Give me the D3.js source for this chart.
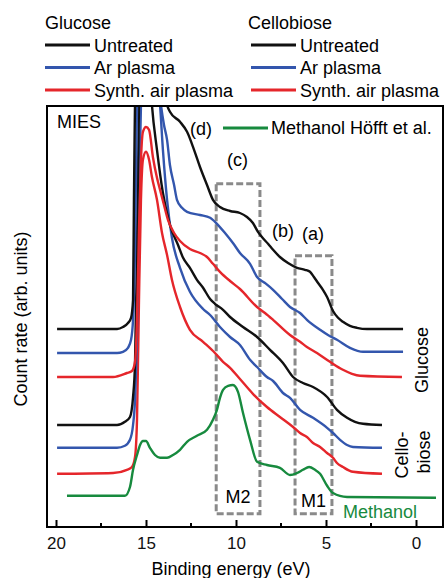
<!DOCTYPE html>
<html lang="en">
<head>
    <meta charset="UTF-8">
    <title>MIES spectra</title>
    <script src="https://d3js.org/d3.v7.min.js"></script>
    <style>
        body { margin: 0; background: white; }
        svg text {
            font-family: "Liberation Sans", Arial, sans-serif;
            font-size: 18px;
        }
        .tick text { font-size: 17px; }
        path.spectrum { fill: none; stroke-width: 2.4px; stroke-linejoin: round; }
        rect.region { fill: none; stroke: #8a8a8a; stroke-width: 3px; stroke-dasharray: 7,3; }
    </style>
</head>
<body>
<svg id="canvas" width="446" height="578"></svg>
<script>
    // spectra: [binding energy (eV), count rate (arb. units)]
    // curves are stacked with an offset, peaks run past the top of the frame
    const glucoseUntreated = [[19.94,49.5],[16.61,49.5],[16.28,50],[16.0,51],[15.83,52.3],[15.72,56.8],[15.67,81.8],
        [15.56,116.8],[15.06,126.8],[14.22,116.8],[13.83,105.5],[13.67,103.8],[13.11,101.3],[12.72,98.8],[12.33,94.3],
        [12.0,90],[11.61,85.5],[11.28,81.8],[10.89,80],[10.33,79],[9.78,78.5],[9.39,77.5],[9.06,76],[8.78,73.8],
        [8.56,72.5],[8.22,70.8],[7.94,69.3],[7.56,67.5],[7.11,66],[6.61,64.8],[6.17,64.3],[5.89,63.8],[5.67,62.5],
        [5.44,61],[5.17,59.3],[4.94,57.5],[4.61,54],[4.33,52.3],[4.06,51.3],[3.67,50.3],[3.28,49.8],[2.72,49.5],[0.72,49.5]];
    const glucoseAr = [[19.94,43.5],[16.61,43.5],[16.28,43.8],[16.0,44.8],[15.83,46.8],[15.72,51.8],[15.61,69.3],
        [15.5,105.5],[15.33,121.8],[14.78,124.3],[14.33,111.8],[14.17,105.5],[14.0,100.5],[13.83,96.8],[13.67,90.5],
        [13.44,85.5],[13.28,81.8],[13.0,79.8],[12.72,78.8],[12.0,78],[11.44,77.3],[11.06,75.8],[10.61,73.5],[10.17,71],
        [9.78,68.5],[9.22,65.8],[8.83,62.5],[8.39,61],[7.94,59.3],[7.44,57],[7.0,55],[6.44,53.5],[6.06,51.8],[5.33,49.3],
        [4.89,48],[4.39,46.8],[3.67,44.8],[2.94,43.8],[0.72,43.8]];
    const glucoseAir = [[19.94,37.5],[16.83,37.5],[16.06,38.5],[15.78,39],[15.61,41.3],[15.5,51.8],[15.39,74.3],
        [15.28,91.8],[15.17,98.8],[15.0,100],[14.83,99.3],[14.61,92.3],[14.39,87.3],[14.22,84.3],[14.0,80.5],[13.78,76.8],
        [13.44,73.5],[13.11,71.5],[12.56,69.5],[12.0,68.5],[11.61,67.5],[11.28,65.8],[10.89,63.8],[10.33,61.5],[9.78,59.5],
        [8.83,55],[8.39,53.5],[7.94,51.8],[7.0,48],[6.44,46.3],[6.06,45],[5.5,43.5],[4.78,41.3],[4.06,39.3],[3.56,38.3],
        [3.11,37.8],[0.78,37.5]];
    const cellobioseUntreated = [[19.94,25.5],[16.61,25.5],[16.17,26.3],[15.89,27.5],[15.72,32.5],[15.61,41],[15.5,69.3],
        [15.39,105.5],[15.17,119.3],[14.83,116.8],[14.67,105.5],[14.39,94.3],[14.06,83.5],[13.67,75.5],[13.22,70.5],
        [12.94,67.3],[12.56,64.8],[12.17,61.8],[11.83,59.8],[11.44,57],[11.17,55.8],[10.72,54.3],[10.33,52.5],[9.61,50],
        [8.83,47.5],[8.11,44.3],[7.39,41],[6.83,37.5],[6.28,36],[5.72,35],[4.94,32.5],[4.39,29.3],[3.83,27.3],[3.39,26.3],
        [2.94,25.8],[1.89,25.5]];
    const cellobioseAr = [[19.94,19.8],[16.61,19.8],[16.17,20.3],[15.89,21.8],[15.72,25.5],[15.61,31.8],[15.5,49.3],
        [15.39,81.8],[15.28,105.5],[15.06,119.3],[14.5,116.8],[14.22,105.5],[14.06,94.3],[13.83,81.8],[13.56,72.3],
        [13.11,64.8],[12.56,58.8],[11.83,54.5],[11.44,53],[10.89,50],[10.33,47.5],[9.78,45.5],[9.22,41.8],[8.83,40],
        [8.28,37.5],[7.94,36.5],[7.39,33.5],[7.0,32.3],[6.44,29.3],[5.72,27.3],[4.94,24.8],[4.61,23.5],[4.22,21.8],
        [3.83,20.5],[3.5,20],[1.89,19.8]];
    const cellobioseAir = [[19.94,13.3],[16.83,13.5],[16.06,14.3],[15.78,15],[15.61,17.5],[15.5,26.8],[15.39,56.8],
        [15.28,81.8],[15.17,91.8],[15.0,93.8],[14.83,91.8],[14.67,87.5],[14.39,81.8],[14.11,73.5],[13.83,68],[13.56,61.8],
        [13.11,55],[12.56,49.3],[11.83,46.3],[11.17,43.5],[10.72,41.3],[10.33,39.8],[9.78,37],[9.06,33.3],[8.28,30],
        [7.56,27.5],[6.83,25],[6.44,23.5],[6.06,22.5],[5.72,21],[5.33,20],[4.94,18.5],[4.61,17.3],[4.39,16],[4.06,15],
        [3.5,13.8],[1.89,13.3]];
    const methanolHoefft = [[19.39,7.8],[16.17,7.8],[15.89,10],[15.72,14.3],[15.5,18],[15.33,20.5],[15.17,21.5],[15.0,21.5],
        [14.78,19.8],[14.5,18],[14.22,17.3],[13.83,17.3],[13.5,18],[13.11,19.3],[12.72,21.3],[12.17,22.8],[11.61,24.3],
        [11.28,26.8],[11.06,29.3],[10.89,32.3],[10.72,34.3],[10.44,35.3],[10.17,35.5],[9.89,33.8],[9.61,28.5],[9.22,21.8],
        [8.83,16.3],[8.28,15.5],[7.56,14.8],[7.0,13],[6.61,13.5],[6.28,14.3],[5.94,15],[5.61,14.3],[5.33,13.3],[4.94,10.3],
        [4.61,8.5],[3.83,7.5],[-1.11,7.3]];

    // marked regions: energy range and height of the dashed boxes
    const regionNames = ["M2", "M1"];
    const regionEnergies = [[11.1, 8.67], [6.72, 4.67]];
    const regionTops = [85.8, 67.8];
    const regionBottom = 3.3;

    const treatments = ["Untreated", "Ar plasma", "Synth. air plasma"];
    const samples = ["Glucose", "Cellobiose"];
    const xTicks = [20, 15, 10, 5, 0];
    const xMinorTicks = [17.5, 12.5, 7.5, 2.5];

    const colors = {"Untreated": "#111111", "Ar plasma": "#3356ad", "Synth. air plasma": "#e5262b", "Methanol": "#178a3e"};

    let svg = d3.select('svg');
    let frame = {left: 47, right: 443, top: 106, bottom: 527};

    let x = d3.scaleLinear().domain([20.5, -1.5]).range([frame.left, frame.right]);
    let y = d3.scaleLinear().domain([0, 105.25]).range([frame.bottom, frame.top]);

    svg.append('clipPath').attr('id', 'plotClip')
        .append('rect').attr('x', frame.left).attr('y', frame.top)
        .attr('width', frame.right - frame.left).attr('height', frame.bottom - frame.top);

    let plot = svg.append('g').attr('clip-path', 'url(#plotClip)');

    // dashed boxes behind the spectra
    regionNames.forEach((name, i) => {
        let e = regionEnergies[i];
        plot.append('rect').attr('class', 'region')
            .attr('x', x(e[0])).attr('width', x(e[1]) - x(e[0]))
            .attr('y', y(regionTops[i])).attr('height', y(regionBottom) - y(regionTops[i]));
    });

    let line = d3.line().x(d => x(d[0])).y(d => y(d[1])).curve(d3.curveMonotoneX);

    let spectra = [
        {data: cellobioseAir, color: colors["Synth. air plasma"]},
        {data: cellobioseAr, color: colors["Ar plasma"]},
        {data: cellobioseUntreated, color: colors["Untreated"]},
        {data: glucoseAir, color: colors["Synth. air plasma"]},
        {data: glucoseAr, color: colors["Ar plasma"]},
        {data: glucoseUntreated, color: colors["Untreated"]},
        {data: methanolHoefft, color: colors["Methanol"]}
    ];
    plot.selectAll('path.spectrum')
        .data(spectra)
        .enter()
        .append('path')
        .attr('class', 'spectrum')
        .attr('stroke', d => d.color)
        .attr('d', d => line(d.data));

    // frame
    svg.append('rect').attr('x', frame.left).attr('y', frame.top)
        .attr('width', frame.right - frame.left).attr('height', frame.bottom - frame.top)
        .attr('fill', 'none').attr('stroke', 'black').attr('stroke-width', 2);

    // x axis, ticks pointing inward
    let xAxis = svg.append('g').attr('transform', `translate(0,${frame.bottom})`)
        .call(d3.axisBottom(x).tickValues(xTicks).tickSizeInner(-7).tickSizeOuter(0).tickPadding(10));
    xAxis.select('.domain').remove();
    xAxis.selectAll('.tick line').attr('stroke-width', 2);
    xAxis.selectAll('.tick text').attr('fill', '#111');
    svg.append('g').selectAll('line')
        .data(xMinorTicks).enter().append('line')
        .attr('x1', d => x(d)).attr('x2', d => x(d))
        .attr('y1', frame.bottom).attr('y2', frame.bottom - 4)
        .attr('stroke', 'black').attr('stroke-width', 2);

    svg.append('text').attr('x', 231).attr('y', 575).attr('text-anchor', 'middle').text('Binding energy (eV)');
    svg.append('text').attr('transform', 'translate(27,319) rotate(-90)').attr('text-anchor', 'middle')
        .text('Count rate (arb. units)');

    // legend above the frame
    samples.forEach((s, i) => {
        let lx = i === 0 ? 45 : 251;
        svg.append('text').attr('x', lx - (i === 0 ? 0 : 3)).attr('y', 29).text(s);
        treatments.forEach((t, j) => {
            let ly = 45 + j * 22.5;
            svg.append('line').attr('x1', lx).attr('x2', lx + 45).attr('y1', ly).attr('y2', ly)
                .attr('stroke', colors[t]).attr('stroke-width', 3);
            svg.append('text').attr('x', lx + 49).attr('y', ly + 6.5).text(t);
        });
    });

    // labels inside the frame
    svg.append('text').attr('x', 57).attr('y', 128).text('MIES');
    svg.append('text').attr('x', 190).attr('y', 135).text('(d)');
    svg.append('line').attr('x1', 223).attr('x2', 268).attr('y1', 128).attr('y2', 128)
        .attr('stroke', colors["Methanol"]).attr('stroke-width', 3);
    svg.append('text').attr('x', 271).attr('y', 134).text('Methanol Höfft et al.');
    svg.append('text').attr('x', 227).attr('y', 166).text('(c)');
    svg.append('text').attr('x', 272).attr('y', 237).text('(b)');
    svg.append('text').attr('x', 302).attr('y', 240).text('(a)');

    regionNames.forEach((name, i) => {
        let e = regionEnergies[i];
        svg.append('text').attr('x', (x(e[0]) + x(e[1])) / 2).attr('y', i === 0 ? 503 : 507)
            .attr('text-anchor', 'middle').text(name);
    });
    svg.append('text').attr('x', 343).attr('y', 518).attr('fill', colors["Methanol"]).text('Methanol');

    svg.append('text').attr('transform', 'translate(428,360) rotate(-90)').attr('text-anchor', 'middle').text('Glucose');
    svg.append('text').attr('transform', 'translate(408,455) rotate(-90)').attr('text-anchor', 'middle').text('Cello-');
    svg.append('text').attr('transform', 'translate(430,452) rotate(-90)').attr('text-anchor', 'middle').text('biose');
</script>
</body>
</html>
